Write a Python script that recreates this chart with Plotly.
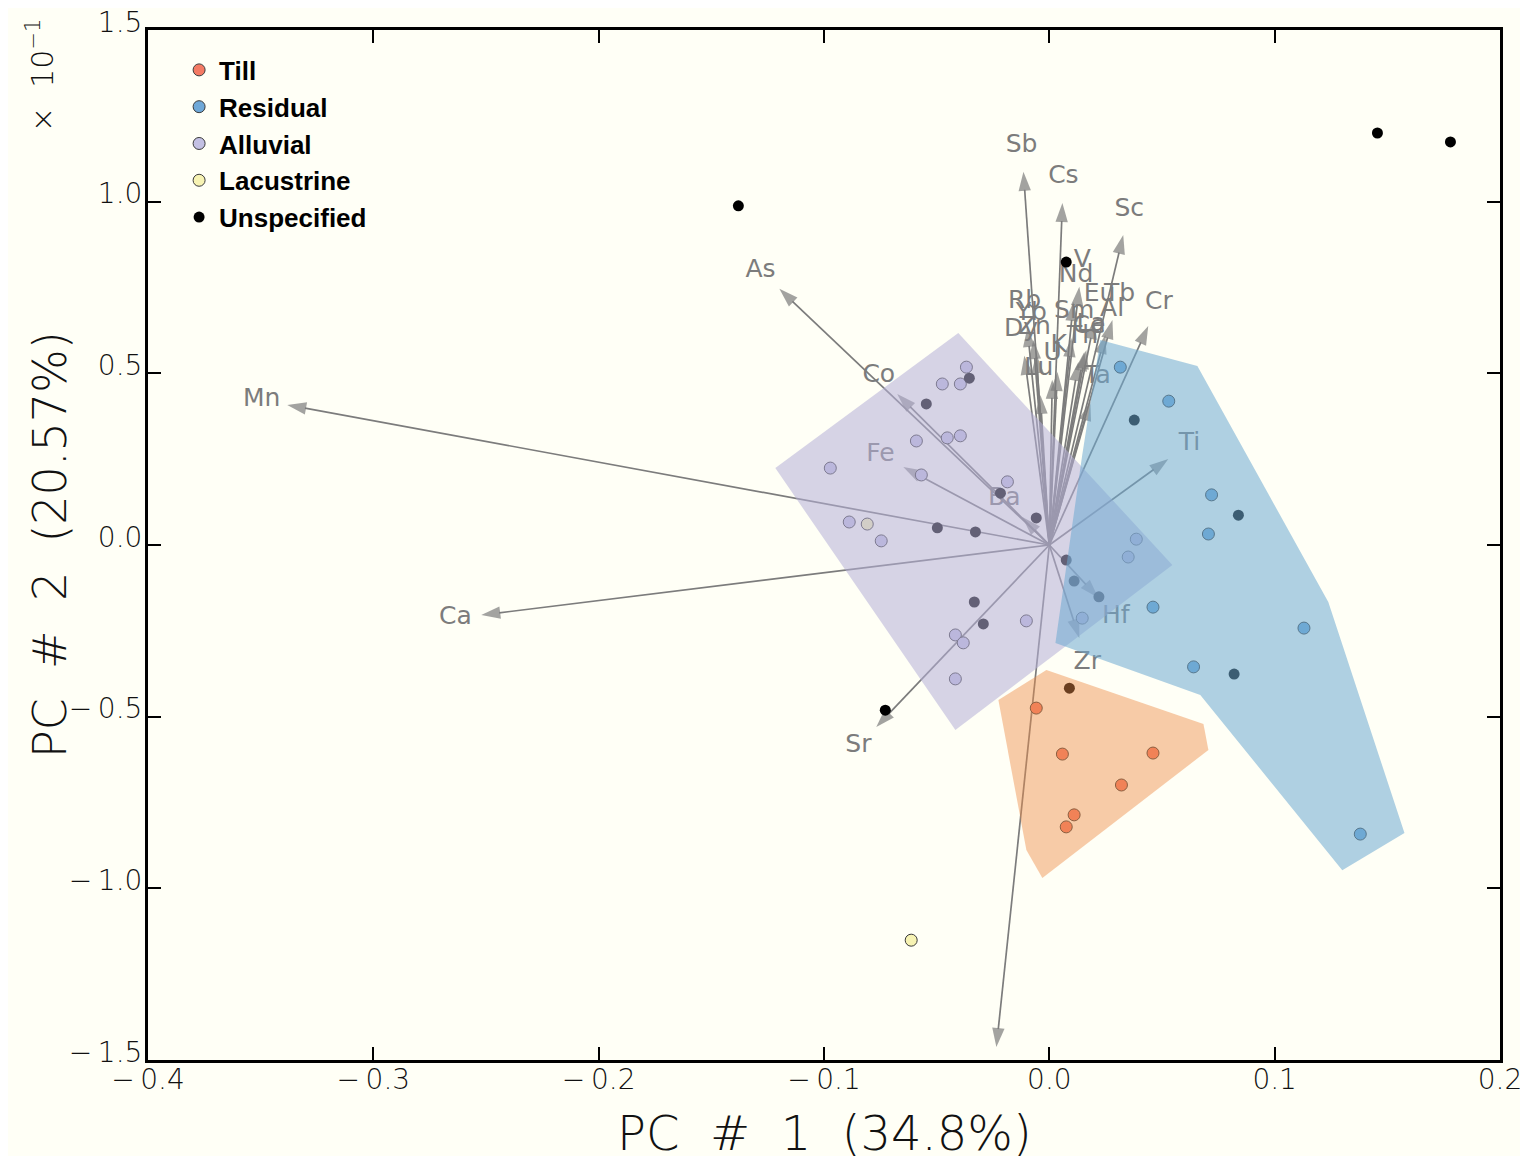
import math
import plotly.graph_objects as go

# ---------------- data ----------------
till_x = [-0.0058, 0.0058, 0.046, 0.032, 0.011, 0.0075]
till_y = [-0.475, -0.609, -0.606, -0.699, -0.786, -0.821]

resid_x = [0.0315, 0.053, 0.072, 0.0706, 0.046, 0.113, 0.064, 0.138]
resid_y = [0.518, 0.419, 0.146, 0.032, -0.181, -0.242, -0.355, -0.842]

alluv_x = [-0.0368, -0.0475, -0.0395, -0.059, -0.0453, -0.0395, -0.0972, -0.0568, -0.0186,
           -0.0888, -0.0746, 0.0386, 0.035, -0.0102, 0.0146, -0.0417, -0.0382, -0.0417]
alluv_y = [0.518, 0.469, 0.469, 0.303, 0.312, 0.318, 0.224, 0.204, 0.184,
           0.067, 0.012, 0.017, -0.035, -0.221, -0.213, -0.262, -0.285, -0.390]

lacus_x = [-0.0808, -0.0613]
lacus_y = [0.061, -1.151]

unsp_x = [-0.138, 0.1456, 0.178, 0.0075, -0.0355, -0.0546, 0.0377, 0.0839, -0.0217, -0.0058,
          -0.0497, -0.0328, 0.0075, 0.011, 0.022, -0.0333, -0.0293, 0.0089, 0.082, -0.0728]
unsp_y = [0.988, 1.20, 1.174, 0.824, 0.486, 0.411, 0.364, 0.087, 0.151, 0.079,
          0.050, 0.038, -0.044, -0.105, -0.151, -0.166, -0.230, -0.417, -0.376, -0.481]

var_names = ["Mn", "Ca", "As", "Co", "Fe", "Ba", "Sr", "Na", "Ti", "Hf", "Zr", "Sb", "Cs", "Sc", "Cr",
             "Rb", "Yb", "Dy", "Zn", "Lu", "K", "U", "Nd", "V", "Eu", "Tb", "Sm", "Al", "La", "Th", "Ce", "Ta"]
var_x = [-0.3382, -0.2521, -0.1198, -0.0675, -0.0648, -0.012, -0.0768, -0.0235, 0.0528, 0.0217, 0.0133,
         -0.0115, 0.0058, 0.0328, 0.0439,
         -0.0098, -0.0071, -0.0111, -0.0058, -0.004, 0.0036, 0.0013, 0.0107, 0.0133, 0.020, 0.028,
         0.0098, 0.0249, 0.0164, 0.0129, 0.0155, 0.0182]
var_y = [0.408, -0.204, 0.746, 0.440, 0.227, 0.0816, -0.530, -1.462, 0.2505, -0.154, -0.271,
         1.087, 0.996, 0.903, 0.638,
         0.632, 0.597, 0.551, 0.556, 0.437, 0.504, 0.481, 0.708, 0.752, 0.655, 0.655,
         0.603, 0.612, 0.568, 0.533, 0.562, 0.417]

hull_alluv_x = [-0.1216, -0.0404, 0.0546, -0.0417]
hull_alluv_y = [0.224, 0.6175, -0.058, -0.539]
hull_resid_x = [0.0226, 0.0657, 0.1238, 0.1576, 0.130, 0.067, 0.0027, 0.0146]
hull_resid_y = [0.597, 0.521, -0.166, -0.839, -0.947, -0.437, -0.2855, 0.262]
hull_till_x = [-0.0226, -0.0013, 0.0684, 0.0706, -0.0031, -0.0102]
hull_till_y = [-0.4515, -0.364, -0.521, -0.597, -0.970, -0.888]

x_ticks = [-0.4, -0.3, -0.2, -0.1, 0.0, 0.1, 0.2]
y_ticks = [-1.5, -1.0, -0.5, 0.0, 0.5, 1.0, 1.5]

# ---------------- styling ----------------
BG = "#fffff6"
ARROW = "#7c7c7c"
TICKFONT = dict(family="DejaVu Sans", size=28, color="#111111", weight=200)

# page body has an 8px margin: compensate
FIG_W, FIG_H = 1512, 1148
M_L, M_R, M_T, M_B = 140, 20, 22, 96

X_RANGE = [-0.4, 0.2]
Y_RANGE = [-1.5, 1.5]
PLOT_W = FIG_W - M_L - M_R
PLOT_H = FIG_H - M_T - M_B
sx = PLOT_W / (X_RANGE[1] - X_RANGE[0])
sy = PLOT_H / (Y_RANGE[1] - Y_RANGE[0])


def fmt(v):
    s = f"{abs(v):.1f}"
    return ("\u2212\u2009" + s) if v < 0 else s


fig = go.Figure()

# arrows
for name, vx, vy in zip(var_names, var_x, var_y):
    fig.add_trace(go.Scatter(
        x=[0, vx], y=[0, vy], mode="lines+markers",
        line=dict(color=ARROW, width=1.7),
        marker=dict(symbol="arrow", size=[0, 20], angleref="previous", color=ARROW,
                    line=dict(width=0)),
        showlegend=False, hoverinfo="skip"))

# labels beyond the arrow tips
lab_x, lab_y = [], []
for vx, vy in zip(var_x, var_y):
    px, py = vx * sx, vy * sy
    n = math.hypot(px, py)
    off = 26
    lab_x.append(vx + off * px / n / sx)
    lab_y.append(vy + off * py / n / sy)
fig.add_trace(go.Scatter(
    x=lab_x, y=lab_y, mode="text", text=var_names,
    textfont=dict(family="DejaVu Sans", size=25, color=ARROW),
    showlegend=False, hoverinfo="skip"))

# points
groups = [
    ("Till", till_x, till_y, "#f47a64", 12, 1),
    ("Residual", resid_x, resid_y, "#6fa8d8", 12, 1),
    ("Alluvial", alluv_x, alluv_y, "#c3c0e3", 12, 1),
    ("Lacustrine", lacus_x, lacus_y, "#f7f3b3", 12, 1),
    ("Unspecified", unsp_x, unsp_y, "#000000", 11, 0),
]
for name, gx, gy, col, sz, lw in groups:
    fig.add_trace(go.Scatter(
        x=gx, y=gy, mode="markers", name=name,
        marker=dict(color=col, size=sz, line=dict(color="#3a3a3a", width=lw)),
    ))

# hull polygons (drawn on top, translucent)
for hx, hy, fc in [
    (hull_alluv_x, hull_alluv_y, "rgba(180,175,215,0.55)"),
    (hull_resid_x, hull_resid_y, "rgba(110,170,210,0.55)"),
    (hull_till_x, hull_till_y, "rgba(238,140,70,0.45)"),
]:
    fig.add_trace(go.Scatter(
        x=hx + hx[:1], y=hy + hy[:1], mode="lines", fill="toself",
        fillcolor=fc, line=dict(width=0), showlegend=False, hoverinfo="skip"))

axis_common = dict(
    showgrid=False, zeroline=False, showline=True, linecolor="black", linewidth=3,
    mirror="ticks", ticks="inside", ticklen=13, tickwidth=1.5, tickcolor="black",
    tickfont=TICKFONT, ticklabeloverflow="allow", automargin=False,
)
fig.update_xaxes(range=X_RANGE, tickvals=x_ticks, ticktext=[fmt(v) for v in x_ticks],
                 ticklabelstandoff=-8, **axis_common)
fig.update_yaxes(range=Y_RANGE, tickvals=y_ticks, ticktext=[fmt(v) for v in y_ticks],
                 ticklabelshift=-8, ticklabelstandoff=-3, **axis_common)

fig.update_layout(
    width=FIG_W, height=FIG_H,
    margin=dict(l=M_L, r=M_R, t=M_T, b=M_B, autoexpand=False),
    paper_bgcolor=BG, plot_bgcolor=BG,
    legend=dict(
        x=0.023, y=0.984, xanchor="left", yanchor="top",
        bgcolor="rgba(0,0,0,0)", borderwidth=0,
        font=dict(family="Liberation Sans, Arial, sans-serif",
                  size=26, color="black", weight="bold"),
        itemwidth=30, tracegroupgap=0,
    ),
    annotations=[
        dict(text="PC  #  1  (34.8%)", xref="paper", yref="paper", x=0.5, y=0,
             xanchor="center", yanchor="middle", yshift=-73, showarrow=False,
             font=dict(family="DejaVu Sans", size=48, color="#111111", weight=200)),
        dict(text="PC  #  2  (20.57%)", xref="paper", yref="paper", x=-98 / PLOT_W, y=0.5,
             xanchor="center", yanchor="middle", textangle=-90, showarrow=False,
             font=dict(family="DejaVu Sans", size=46, color="#111111", weight=200)),
        dict(text="\u00d7  10<sup>\u22121</sup>", xref="paper", yref="paper", x=-108 / PLOT_W, y=1,
             xanchor="center", yanchor="middle", textangle=-90, yshift=-45, showarrow=False,
             font=dict(family="DejaVu Sans", size=30, color="#111111", weight=200)),
    ],
)

fig.write_html("out.html")
